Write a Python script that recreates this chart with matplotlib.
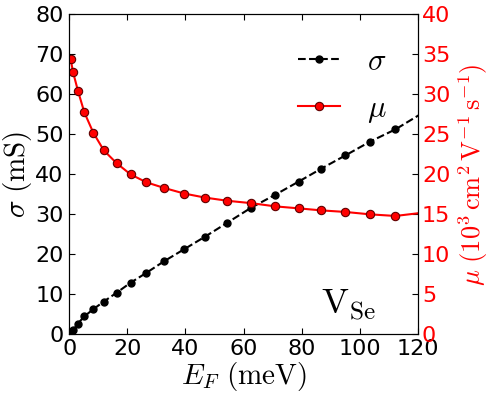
import matplotlib
matplotlib.use("Agg")
import matplotlib.pyplot as plt

plt.rcParams['mathtext.fontset'] = 'cm'
plt.rcParams['font.family'] = ['DejaVu Sans']

E_F = [0.5, 1.3, 3.0, 5.2, 8.3, 11.9, 16.3, 21.1, 26.6, 32.7, 39.6, 46.7,
       54.4, 62.7, 70.9, 79.0, 86.7, 95.1, 103.6, 112.3, 121.5]
sigma = [0.4, 1.0, 2.7, 4.5, 6.3, 8.2, 10.4, 12.9, 15.4, 18.3, 21.3, 24.4,
         27.9, 31.7, 34.9, 38.2, 41.4, 44.75, 48.2, 51.25, 55.3]
mu = [34.4, 32.8, 30.45, 27.75, 25.2, 23.0, 21.4, 20.0, 19.0, 18.3, 17.6, 17.1,
      16.7, 16.4, 16.0, 15.75, 15.5, 15.3, 15.0, 14.8, 15.2]

xticks = [0, 20, 40, 60, 80, 100, 120]
yticks_left = [0, 10, 20, 30, 40, 50, 60, 70, 80]
yticks_right = [0, 5, 10, 15, 20, 25, 30, 35, 40]

fig = plt.figure(figsize=(4.98, 3.99), dpi=100)
ax = fig.add_axes([0.139, 0.162, 0.700, 0.802])
ax2 = ax.twinx()

l1, = ax.plot(E_F, sigma, '--', color='black', marker='o', markersize=5,
              markerfacecolor='black', markeredgecolor='black', lw=1.5, label=r'$\sigma$')
l2, = ax2.plot(E_F, mu, '-', color='red', marker='o', markersize=6,
               markerfacecolor='red', markeredgecolor='#600000', markeredgewidth=0.8,
               lw=1.5, label=r'$\mu$')

ax.set_xlim(0, 120)
ax.set_ylim(0, 80)
ax2.set_ylim(0, 40)
ax.set_xticks(xticks)
ax.set_yticks(yticks_left)
ax2.set_yticks(yticks_right)

for a in (ax, ax2):
    a.tick_params(direction='in', length=4, width=0.8, labelsize=16, top=True)
ax.tick_params(axis='x', pad=3)
ax.tick_params(axis='y', pad=4)
ax2.tick_params(axis='y', labelcolor='red', pad=3)

ax.set_xlabel(r'$E_F\ (\mathrm{meV})$', fontsize=21, labelpad=1)
ax.set_ylabel(r'$\sigma\ (\mathrm{mS})$', fontsize=21, labelpad=1)
ax2.set_ylabel(r'$\mu\ (10^3\,\mathrm{cm^2\,V^{-1}\,s^{-1}})$', fontsize=19,
               color='red', labelpad=4)

ax.text(0.88, 0.035, r'$\mathrm{V_{Se}}$', transform=ax.transAxes, fontsize=26,
        ha='right', va='bottom')

leg = ax.legend([l1, l2], [r'$\sigma$', r'$\mu$'], loc='upper right', frameon=False,
                fontsize=22, handlelength=1.35, numpoints=1, labelspacing=0.6,
                handletextpad=0.9, bbox_to_anchor=(0.99, 0.985))

fig.savefig('out.png', dpi=100)
